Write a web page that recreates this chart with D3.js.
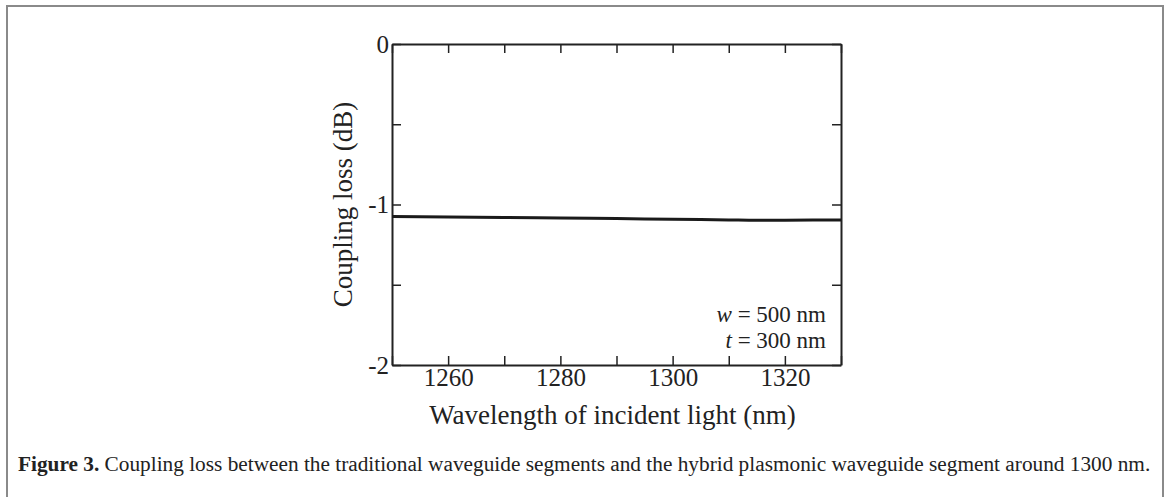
<!DOCTYPE html>
<html>
<head>
<meta charset="utf-8">
<script src="https://cdn.jsdelivr.net/npm/d3@7"></script>
<style>
  html, body { margin: 0; padding: 0; background: #fff; }
  svg { display: block; }
</style>
</head>
<body>
<div id="chart"></div>
<script>
'use strict'

// data
const wavelength = [1250, 1260, 1270, 1280, 1290, 1300, 1310, 1315, 1320, 1325, 1330];
const loss = [-1.075, -1.078, -1.081, -1.084, -1.088, -1.092, -1.096, -1.098, -1.098, -1.097, -1.096];
const xTicks = [1250, 1260, 1270, 1280, 1290, 1300, 1310, 1320, 1330];
const xLabels = [1260, 1280, 1300, 1320];
const yTicks = [0, -0.5, -1, -1.5, -2];
const yLabels = [0, -1, -2];

const W = 1170, H = 497;
const plot = {left: 392, top: 44, right: 841, bottom: 365};
const serif = '"Liberation Serif", "Times New Roman", serif';

const svg = d3.select("#chart").append("svg")
    .attr("width", W)
    .attr("height", H);

// outer frame of the figure
svg.append("path")
    .attr("d", `M7,${H + 5} V6 H1163 V${H + 5}`)
    .attr("fill", "none")
    .attr("stroke", "#8a8a8a")
    .attr("stroke-width", 2);

const x = d3.scaleLinear().domain([1250, 1330]).range([plot.left, plot.right]);
const y = d3.scaleLinear().domain([-2, 0]).range([plot.bottom, plot.top]);

const tickLen = 9;

// bottom axis (ticks inward)
const bottom = svg.append("g")
    .attr("transform", `translate(0, ${plot.bottom})`)
    .call(d3.axisBottom(x).tickValues(xTicks).tickSize(-tickLen).tickSizeOuter(0)
        .tickFormat(d => xLabels.includes(d) ? d : ""));
bottom.attr("font-size", 25).attr("font-family", serif);
bottom.selectAll("text")
    .attr("y", 3)
    .attr("fill", "#222");

// top axis
svg.append("g")
    .attr("transform", `translate(0, ${plot.top})`)
    .call(d3.axisTop(x).tickValues(xTicks).tickSize(-tickLen).tickSizeOuter(0).tickFormat(""));

// left axis
const left = svg.append("g")
    .attr("transform", `translate(${plot.left}, 0)`)
    .call(d3.axisLeft(y).tickValues(yTicks).tickSize(-tickLen).tickSizeOuter(0)
        .tickFormat(d => yLabels.includes(d) ? d : ""));
left.attr("font-size", 25).attr("font-family", serif);
left.selectAll("text")
    .attr("x", -3)
    .attr("fill", "#222");

// right axis
svg.append("g")
    .attr("transform", `translate(${plot.right}, 0)`)
    .call(d3.axisRight(y).tickValues(yTicks).tickSize(-tickLen).tickSizeOuter(0).tickFormat(""));

svg.selectAll(".domain").attr("stroke", "#222").attr("stroke-width", 2);
svg.selectAll(".tick line").attr("stroke", "#222").attr("stroke-width", 1.5);

// curve
const line = d3.line()
    .x((d, i) => x(wavelength[i]))
    .y(d => y(d))
    .curve(d3.curveMonotoneX);

svg.append("path")
    .datum(loss)
    .attr("d", line)
    .attr("fill", "none")
    .attr("stroke", "#1a1a1a")
    .attr("stroke-width", 3);

// annotations
const note = svg.append("g")
    .attr("font-family", serif)
    .attr("font-size", 23)
    .attr("fill", "#222")
    .attr("text-anchor", "end");

const n1 = note.append("text").attr("x", 826).attr("y", 322);
n1.append("tspan").attr("font-style", "italic").text("w");
n1.append("tspan").text(" = 500 nm");

const n2 = note.append("text").attr("x", 826).attr("y", 348);
n2.append("tspan").attr("font-style", "italic").text("t");
n2.append("tspan").text(" = 300 nm");

// axis titles
svg.append("text")
    .attr("x", (plot.left + plot.right) / 2 - 4)
    .attr("y", 424)
    .attr("text-anchor", "middle")
    .attr("font-family", serif)
    .attr("font-size", 27)
    .attr("fill", "#222")
    .text("Wavelength of incident light (nm)");

svg.append("text")
    .attr("transform", `translate(352, ${(plot.top + plot.bottom) / 2}) rotate(-90)`)
    .attr("text-anchor", "middle")
    .attr("font-family", serif)
    .attr("font-size", 27)
    .attr("fill", "#222")
    .text("Coupling loss (dB)");

// caption
const cap = svg.append("text")
    .attr("x", 18)
    .attr("y", 471)
    .attr("font-family", serif)
    .attr("font-size", 21.3)
    .attr("fill", "#222");
cap.append("tspan").attr("font-weight", "bold").text("Figure 3.");
cap.append("tspan").text(" Coupling loss between the traditional waveguide segments and the hybrid plasmonic waveguide segment around 1300 nm.");
</script>
</body>
</html>
